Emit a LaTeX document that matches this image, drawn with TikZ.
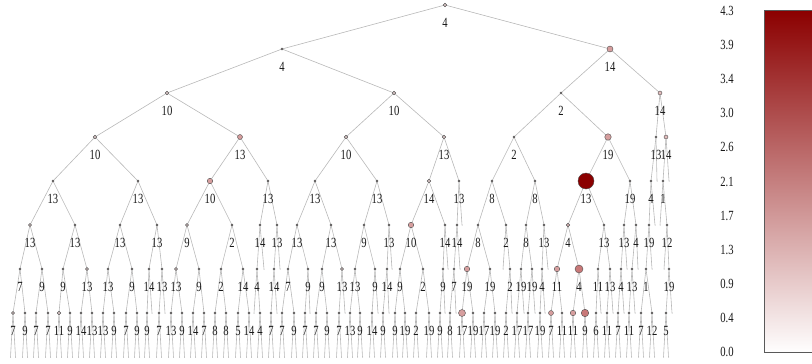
\documentclass[tikz,border=0pt]{standalone}
\usepackage{fontspec}
\newfontfamily\labf[FakeStretch=0.76]{Liberation Serif}
\pgfdeclarelayer{bg}
\pgfsetlayers{bg,main}
\definecolor{dred}{RGB}{139,0,0}
\definecolor{pk0}{RGB}{232,210,210}
\definecolor{pk0b}{RGB}{226,188,188}
\definecolor{pk1}{RGB}{214,158,158}
\definecolor{pk2}{RGB}{200,120,120}
\tikzset{
  nd/.style={circle, draw=black!70, line width=0.4pt, inner sep=0pt, outer sep=0pt},
  lab/.style={font=\labf\fontsize{14}{15}\selectfont, inner sep=0pt, text=black!90},
  edge/.style={draw=black!28, line width=0.6pt},
  lf/.style={circle, fill=black!45, inner sep=0pt, outer sep=0pt, minimum size=1pt},
}
% tree node: level, x, parent, label, diameter, fill
\newcommand\TN[6]{%
  \pgfmathsetmacro\yy{5+44*#1}%
  \node[nd, minimum size=#5pt, fill=#6] (n#1x#2) at (#2,\yy) {};
  \node[lab] (l#1x#2) at (#2,\yy+18) {#4};
  \begin{pgfonlayer}{bg}\draw[edge] (n#3) -- (n#1x#2);\end{pgfonlayer}}
% leaf ending at a level: level, x, parent
\newcommand\LF[3]{%
  \pgfmathsetmacro\yy{5+44*#1}%
  \node[lf] (f#1x#2) at (#2,\yy) {};
  \begin{pgfonlayer}{bg}\draw[edge] (n#3) -- (f#1x#2);\end{pgfonlayer}}
% level-7 node with two leaves: x, parent, label, diameter, fill
\newcommand\TL[5]{%
  \TN{7}{#1}{#2}{#3}{#4}{#5}%
  \node[lf] (g#1a) at (#1-2.5,357) {};
  \node[lf] (g#1b) at (#1+2.5,357) {};
  \begin{pgfonlayer}{bg}\draw[edge] (n7x#1) -- (g#1a); \draw[edge] (n7x#1) -- (g#1b);\end{pgfonlayer}}
\newcommand\TS[3]{\TL{#1}{#2}{#3}{2}{pk0}}
\begin{document}
\begin{tikzpicture}[x=1pt,y=-1pt]
\useasboundingbox (0,0) rectangle (812,364);
% colour bar
\shade[top color=dred, bottom color=white!98!pk0] (764,10.5) rectangle (813,352);
\draw[black!65, line width=0.8pt] (813,10.5) -- (764,10.5) -- (764,352) -- (813,352);
\foreach \v [count=\i from 0] in {4.3,3.9,3.4,3.0,2.6,2.1,1.7,1.3,0.9,0.4,0.0}
  \node[lab] (tick\i) at (727,11+34.1*\i) {\v};
% root
\node[nd, minimum size=3.5pt, fill=pk0] (n0x445) at (445,5) {};
\node[lab] (l0x445) at (445,23) {4};
% level 1
\TN{1}{282}{0x445}{4}{2}{pk0}
\TN{1}{610}{0x445}{14}{6}{pk1}
% level 2
\TN{2}{167}{1x282}{10}{3.5}{pk0}
\TN{2}{394}{1x282}{10}{3.5}{pk0}
\TN{2}{561}{1x610}{2}{2}{pk0}
\TN{2}{660}{1x610}{14}{4}{pk0b}
% level 3
\TN{3}{95}{2x167}{10}{3.5}{pk0}
\TN{3}{240}{2x167}{13}{5}{pk1}
\TN{3}{346}{2x394}{10}{3.5}{pk0}
\TN{3}{444}{2x394}{13}{3.5}{pk0}
\TN{3}{514}{2x561}{2}{2}{pk0}
\TN{3}{608}{2x561}{19}{6.5}{pk1}
\TN{3}{656}{2x660}{13}{2}{pk0}
\TN{3}{666}{2x660}{14}{4}{pk0b}
% level 4
\TN{4}{53}{3x95}{13}{2}{pk0}
\TN{4}{138}{3x95}{13}{2}{pk0}
\TN{4}{210}{3x240}{10}{5.5}{pk1}
\TN{4}{268}{3x240}{13}{2}{pk0}
\TN{4}{315}{3x346}{13}{2}{pk0}
\TN{4}{377}{3x346}{13}{2}{pk0}
\TN{4}{429}{3x444}{14}{3.5}{pk0}
\TN{4}{459}{3x444}{13}{2}{pk0}
\TN{4}{492}{3x514}{8}{2}{pk0}
\TN{4}{535}{3x514}{8}{2}{pk0}
\TN{4}{586}{3x608}{13}{16}{dred}
\TN{4}{630}{3x608}{19}{2}{pk0}
\TN{4}{651}{3x656}{4}{2}{pk0}
\LF{4}{657}{3x656}
\TN{4}{663}{3x666}{1}{2}{pk0}
\LF{4}{669}{3x666}
% level 5
\TN{5}{30}{4x53}{13}{3}{pk0}
\TN{5}{75}{4x53}{13}{2}{pk0}
\TN{5}{120}{4x138}{13}{2}{pk0}
\TN{5}{157}{4x138}{13}{2}{pk0}
\TN{5}{187}{4x210}{9}{3}{pk0}
\TN{5}{232}{4x210}{2}{2}{pk0}
\TN{5}{260}{4x268}{14}{2}{pk0}
\TN{5}{277}{4x268}{13}{2}{pk0}
\TN{5}{297}{4x315}{13}{2}{pk0}
\TN{5}{331}{4x315}{13}{2}{pk0}
\TN{5}{364}{4x377}{9}{2}{pk0}
\TN{5}{389}{4x377}{13}{2}{pk0}
\TN{5}{411}{4x429}{10}{5.5}{pk1}
\TN{5}{445}{4x429}{14}{2}{pk0}
\TN{5}{457}{4x459}{14}{2}{pk0}
\LF{5}{462}{4x459}
\TN{5}{478}{4x492}{8}{2}{pk0}
\TN{5}{506}{4x492}{2}{2}{pk0}
\TN{5}{526}{4x535}{8}{2}{pk0}
\TN{5}{544}{4x535}{13}{2}{pk0}
\TN{5}{568}{4x586}{4}{3.5}{pk0b}
\TN{5}{604}{4x586}{13}{2}{pk0}
\TN{5}{624}{4x630}{13}{2}{pk0}
\TN{5}{636}{4x630}{4}{2}{pk0}
\TN{5}{649}{4x651}{19}{2}{pk0}
\LF{5}{655}{4x651}
\LF{5}{660}{4x663}
\TN{5}{667}{4x663}{12}{2}{pk0}
% level 6
\TN{6}{20}{5x30}{7}{2}{pk0}
\TN{6}{42}{5x30}{9}{2}{pk0}
\TN{6}{63}{5x75}{9}{2}{pk0}
\TN{6}{87}{5x75}{13}{3}{pk0}
\TN{6}{108}{5x120}{13}{2}{pk0}
\TN{6}{132}{5x120}{9}{2}{pk0}
\TN{6}{149}{5x157}{14}{2}{pk0}
\TN{6}{162}{5x157}{13}{2}{pk0}
\TN{6}{176}{5x187}{13}{3}{pk0}
\TN{6}{199}{5x187}{9}{2}{pk0}
\TN{6}{221}{5x232}{2}{2}{pk0}
\TN{6}{243}{5x232}{14}{2}{pk0}
\TN{6}{257}{5x260}{4}{2}{pk0}
\LF{6}{264}{5x260}
\TN{6}{274}{5x277}{14}{2}{pk0}
\LF{6}{280}{5x277}
\TN{6}{288}{5x297}{7}{2}{pk0}
\TN{6}{308}{5x297}{9}{2}{pk0}
\TN{6}{322}{5x331}{9}{2}{pk0}
\TN{6}{342}{5x331}{13}{3}{pk0}
\TN{6}{355}{5x364}{13}{2}{pk0}
\TN{6}{375}{5x364}{9}{2}{pk0}
\TN{6}{387}{5x389}{14}{2}{pk0}
\LF{6}{392}{5x389}
\TN{6}{400}{5x411}{9}{2}{pk0}
\TN{6}{423}{5x411}{2}{2}{pk0}
\TN{6}{443}{5x445}{9}{2}{pk0}
\LF{6}{448}{5x445}
\TN{6}{454}{5x457}{7}{2}{pk0}
\LF{6}{460}{5x457}
\TN{6}{467}{5x478}{19}{5.5}{pk1}
\TN{6}{490}{5x478}{19}{2}{pk0}
\LF{6}{503}{5x506}
\TN{6}{510}{5x506}{2}{2}{pk0}
\TN{6}{521}{5x526}{19}{2}{pk0}
\TN{6}{532}{5x526}{19}{2}{pk0}
\TN{6}{542}{5x544}{4}{2}{pk0}
\LF{6}{548}{5x544}
\TN{6}{557}{5x568}{11}{5.5}{pk1}
\TN{6}{579}{5x568}{4}{8}{pk2}
\TN{6}{598}{5x604}{11}{2}{pk0}
\TN{6}{610}{5x604}{13}{2}{pk0}
\TN{6}{621}{5x624}{4}{2}{pk0}
\LF{6}{627}{5x624}
\TN{6}{632}{5x636}{13}{2}{pk0}
\LF{6}{638}{5x636}
\TN{6}{646}{5x649}{1}{2}{pk0}
\LF{6}{652}{5x649}
\LF{6}{664}{5x667}
\TN{6}{669}{5x667}{19}{2}{pk0}
% level 7 with leaves
\TL{13}{6x20}{7}{3}{pk0}
\TS{25}{6x20}{9}
\TS{36}{6x42}{7}
\TS{48}{6x42}{7}
\TL{59}{6x63}{11}{3.5}{pk0}
\TS{70}{6x63}{9}
\TS{81}{6x87}{14}
\TS{92}{6x87}{13}
\TS{103}{6x108}{13}
\TS{114}{6x108}{9}
\TS{126}{6x132}{7}
\TS{137}{6x132}{9}
\TS{147}{6x149}{9}
\LF{7}{152}{6x149}
\TS{159}{6x162}{7}
\LF{7}{165}{6x162}
\TS{171}{6x176}{13}
\TS{182}{6x176}{9}
\TS{193}{6x199}{14}
\TS{204}{6x199}{7}
\TS{215}{6x221}{8}
\TS{226}{6x221}{8}
\TS{238}{6x243}{5}
\TS{249}{6x243}{14}
\LF{7}{254}{6x257}
\TS{260}{6x257}{4}
\TS{271}{6x274}{7}
\LF{7}{277}{6x274}
\TS{282}{6x288}{7}
\TS{294}{6x288}{9}
\TS{305}{6x308}{7}
\LF{7}{310}{6x308}
\TS{316}{6x322}{7}
\TS{327}{6x322}{9}
\TS{339}{6x342}{7}
\LF{7}{345}{6x342}
\TS{350}{6x355}{13}
\TS{360}{6x355}{9}
\TS{372}{6x375}{14}
\LF{7}{378}{6x375}
\TS{383}{6x387}{9}
\LF{7}{389}{6x387}
\TS{395}{6x400}{9}
\TS{405}{6x400}{19}
\TS{416}{6x423}{2}
\TS{429}{6x423}{19}
\TS{440}{6x443}{9}
\LF{7}{445}{6x443}
\TS{450}{6x454}{8}
\LF{7}{456}{6x454}
\TL{462}{6x467}{17}{7}{pk1}
\TS{473}{6x467}{19}
\TS{484}{6x490}{17}
\TS{495}{6x490}{19}
\TS{506}{6x510}{2}
\LF{7}{512}{6x510}
\TS{517}{6x521}{17}
\LF{7}{524}{6x521}
\TS{528}{6x532}{17}
\LF{7}{535}{6x532}
\TS{540}{6x542}{19}
\LF{7}{545}{6x542}
\TL{551}{6x557}{7}{5}{pk1}
\TS{562}{6x557}{11}
\TL{573}{6x579}{11}{5.5}{pk1}
\TL{585}{6x579}{9}{7.5}{pk2}
\TS{596}{6x598}{6}
\LF{7}{601}{6x598}
\TS{607}{6x610}{11}
\LF{7}{613}{6x610}
\TS{618}{6x621}{7}
\LF{7}{624}{6x621}
\TS{629}{6x632}{11}
\LF{7}{635}{6x632}
\TS{641}{6x646}{7}
\TS{652}{6x646}{12}
\TS{666}{6x669}{5}
\LF{7}{672}{6x669}
\end{tikzpicture}
\end{document}
